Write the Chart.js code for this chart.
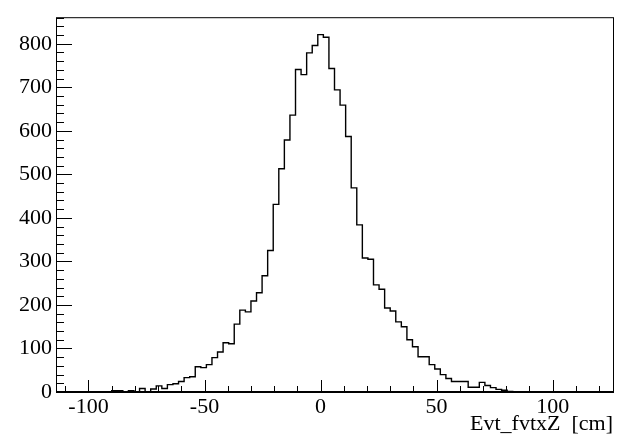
<!DOCTYPE html>
<html>
<head>
<meta charset="utf-8">
<script src="https://cdn.jsdelivr.net/npm/chart.js@4"></script>
<style>
  html, body { margin: 0; padding: 0; background: #fff; }
  #wrap { width: 638px; height: 447px; }
</style>
</head>
<body>
<div id="wrap"><canvas id="hist"></canvas></div>
<script>
// Evt_fvtxZ histogram: 100 bins of 2.4 cm from -114 to 126
const binLow = -114;
const binWidth = 2.4;
const counts = [
  0, 0, 0, 0, 0, 0, 0, 0, 0, 0,
  0, 3, 3, 0, 3, 0, 8, 0, 7, 14,
  8, 17, 19, 24, 33, 35, 58, 56, 63, 79,
  92, 113, 111, 156, 188, 184, 209, 228, 267, 325,
  431, 513, 579, 636, 741, 729, 779, 796, 821, 815,
  743, 694, 659, 587, 469, 384, 308, 305, 246, 236,
  193, 186, 161, 150, 120, 104, 81, 81, 63, 53,
  40, 31, 24, 24, 24, 11, 11, 22, 15, 10,
  6, 4, 1, 0, 0, 0, 0, 0, 0, 0,
  0, 0, 0, 0, 0, 0, 0, 0, 0, 0
];

const xRange = [-114, 126];
const yRange = [0, 861];
const xMajorTicks = [-100, -50, 0, 50, 100];
const yMajorTicks = [0, 100, 200, 300, 400, 500, 600, 700, 800];
const xMinorStep = 10;
const yMinorStep = 20;
const xTitle = 'Evt_fvtxZ  [cm]';

const FONT = 'Liberation Serif';

// outline points: left edge of each bin, plus the closing right edge
const points = counts.map((c, i) => ({ x: binLow + i * binWidth, y: c }));
points.push({ x: binLow + counts.length * binWidth, y: 0 });

// ROOT style frame with ticks pointing inward
const framePlugin = {
  id: 'rootFrame',
  afterDraw(chart) {
    const { ctx, chartArea: a, scales } = chart;
    const xs = scales.x, ys = scales.y;
    ctx.save();
    ctx.strokeStyle = '#000';
    ctx.lineWidth = 1;
    ctx.strokeRect(a.left + 0.5, a.top + 0.5, a.right - a.left, a.bottom - a.top);
    // bottom axis a bit heavier, as in the original
    ctx.lineWidth = 2;
    ctx.beginPath();
    ctx.moveTo(a.left, a.bottom);
    ctx.lineTo(a.right + 1, a.bottom);
    ctx.stroke();

    ctx.lineWidth = 1;
    ctx.beginPath();
    for (let v = yRange[0]; v <= yRange[1]; v += yMinorStep) {
      const py = Math.round(ys.getPixelForValue(v)) + 0.5;
      const len = v % 100 === 0 ? 16 : 8;
      ctx.moveTo(a.left, py);
      ctx.lineTo(a.left + len, py);
    }
    const xStart = Math.ceil(xRange[0] / xMinorStep) * xMinorStep;
    for (let v = xStart; v <= xRange[1]; v += xMinorStep) {
      const px = Math.round(xs.getPixelForValue(v)) + 0.5;
      const len = v % 50 === 0 ? 12 : 6;
      ctx.moveTo(px, a.bottom);
      ctx.lineTo(px, a.bottom - len);
    }
    ctx.stroke();
    ctx.restore();
  }
};

new Chart(document.getElementById('hist'), {
  type: 'line',
  data: {
    datasets: [{
      data: points,
      stepped: 'after',
      borderColor: '#000',
      borderWidth: 1.4,
      pointRadius: 0,
      fill: false,
      clip: false
    }]
  },
  options: {
    responsive: true,
    maintainAspectRatio: false,
    animation: false,
    events: [],
    layout: { padding: { left: 0, right: 25, top: 15, bottom: 0 } },
    plugins: {
      legend: { display: false },
      tooltip: { enabled: false }
    },
    scales: {
      x: {
        type: 'linear',
        min: xRange[0],
        max: xRange[1],
        grid: { display: false, drawTicks: false },
        border: { display: false },
        afterBuildTicks: s => { s.ticks = xMajorTicks.map(v => ({ value: v })); },
        afterFit: s => { s.height = 55; },
        ticks: {
          autoSkip: false,
          maxRotation: 0,
          padding: 2,
          color: '#000',
          font: { family: FONT, size: 22 },
          callback: v => String(v)
        },
        title: {
          display: true,
          text: xTitle,
          align: 'end',
          color: '#000',
          font: { family: FONT, size: 22 },
          padding: { top: 0, bottom: 10 }
        }
      },
      y: {
        type: 'linear',
        min: yRange[0],
        max: yRange[1],
        grid: { display: false, drawTicks: false },
        border: { display: false },
        afterBuildTicks: s => { s.ticks = yMajorTicks.map(v => ({ value: v })); },
        afterFit: s => { s.width = 56; },
        ticks: {
          padding: 4,
          color: '#000',
          font: { family: FONT, size: 22 },
          callback: v => String(v)
        }
      }
    }
  },
  plugins: [framePlugin]
});
</script>
</body>
</html>
